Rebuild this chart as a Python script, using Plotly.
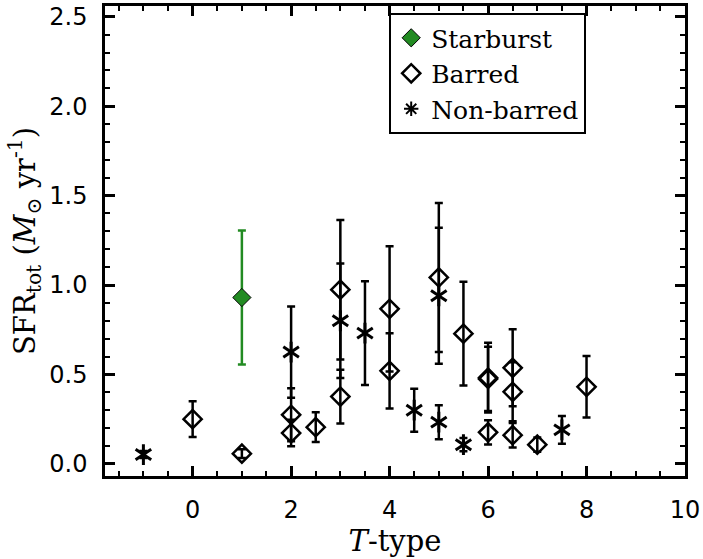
import plotly.graph_objects as go

# Starburst galaxy
sb_t = [1]
sb_sfr = [0.93]
sb_err = [0.375]

# Barred galaxies
bar_t = [0, 1, 2, 2, 2.5, 3, 3, 4, 4, 5, 5.5, 6, 6, 6, 6.5, 6.5, 6.5, 7, 8]
bar_sfr = [0.25, 0.057, 0.274, 0.172, 0.205, 0.974, 0.376, 0.867, 0.52, 1.042,
           0.728, 0.482, 0.475, 0.176, 0.537, 0.403, 0.16, 0.107, 0.431]
bar_err = [0.10, 0.025, 0.148, 0.074, 0.083, 0.39, 0.15, 0.35, 0.21, 0.417,
           0.29, 0.195, 0.18, 0.068, 0.215, 0.165, 0.068, 0.04, 0.172]

# Non-barred galaxies
nb_t = [-1, 2, 3, 3.5, 4.5, 5, 5, 5.5, 7.5]
nb_sfr = [0.052, 0.625, 0.80, 0.731, 0.30, 0.94, 0.233, 0.107, 0.19]
nb_err = [0.02, 0.255, 0.32, 0.29, 0.12, 0.38, 0.095, 0.037, 0.078]

GREEN = "#228B22"
SERIF = "DejaVu Serif"
SANS = "DejaVu Sans"

fig = go.Figure()

fig.add_trace(go.Scatter(
    x=sb_t, y=sb_sfr, mode="markers", name="Starburst",
    marker=dict(symbol="diamond", size=14, color=GREEN,
                line=dict(color="black", width=1)),
    error_y=dict(type="data", array=sb_err, color=GREEN, thickness=2.5, width=4),
))

fig.add_trace(go.Scatter(
    x=bar_t, y=bar_sfr, mode="markers", name="Barred",
    marker=dict(symbol="diamond-open", size=14, color="black",
                line=dict(color="black", width=2.5)),
    error_y=dict(type="data", array=bar_err, color="black", thickness=2.5, width=4),
))

# six-armed asterisk built from two Y symbols
fig.add_trace(go.Scatter(
    x=nb_t, y=nb_sfr, mode="markers", showlegend=False,
    marker=dict(symbol="y-up-open", size=13, color="black",
                line=dict(color="black", width=3)),
    error_y=dict(type="data", array=nb_err, color="black", thickness=2.5, width=4),
))
fig.add_trace(go.Scatter(
    x=nb_t, y=nb_sfr, mode="markers", showlegend=False,
    marker=dict(symbol="y-down-open", size=13, color="black",
                line=dict(color="black", width=3)),
))
# legend entry only
fig.add_trace(go.Scatter(
    x=[None], y=[None], mode="markers", name="Non-barred",
    marker=dict(symbol="asterisk-open", size=12, color="black",
                line=dict(color="black", width=2)),
))

axis_common = dict(
    showline=True, linewidth=2.5, linecolor="black", mirror="ticks",
    ticks="inside", ticklen=10, tickwidth=2.5, tickcolor="black",
    showgrid=False, zeroline=False,
    tickfont=dict(family=SANS, size=24, color="black"),
)

fig.update_xaxes(
    range=[-1.78, 10.0], tick0=0, dtick=2,
    minor=dict(dtick=0.5, ticks="inside", ticklen=5, tickwidth=2, tickcolor="black"),
    title=dict(text="<i>T</i>-type", font=dict(family=SERIF, size=29, color="black"),
               standoff=4),
    ticklabelstandoff=10,
    **axis_common,
)
fig.update_yaxes(
    range=[-0.068, 2.56], tick0=0, dtick=0.5, tickformat=".1f",
    minor=dict(dtick=0.1, ticks="inside", ticklen=5, tickwidth=2, tickcolor="black"),
    title=dict(text="SFR<sub>tot</sub> (<i>M</i><sub>⊙</sub> yr<sup>-1</sup>)",
               font=dict(family=SERIF, size=29, color="black"), standoff=6),
    ticklabelstandoff=10,
    **axis_common,
)

fig.update_layout(
    width=703, height=559,
    margin=dict(l=105, r=16, t=3, b=83),
    paper_bgcolor="white", plot_bgcolor="white",
    showlegend=True,
    legend=dict(
        x=0.49, y=0.985, xanchor="left", yanchor="top",
        bgcolor="white", bordercolor="black", borderwidth=2,
        font=dict(family=SERIF, size=25, color="black"),
        itemwidth=30, tracegroupgap=0, entrywidth=200,
    ),
)

# drop the page's default body margin so the figure sits at the window corner
fig.write_html("out.html", config={"displayModeBar": False},
               post_script="document.body.style.margin='0';")
